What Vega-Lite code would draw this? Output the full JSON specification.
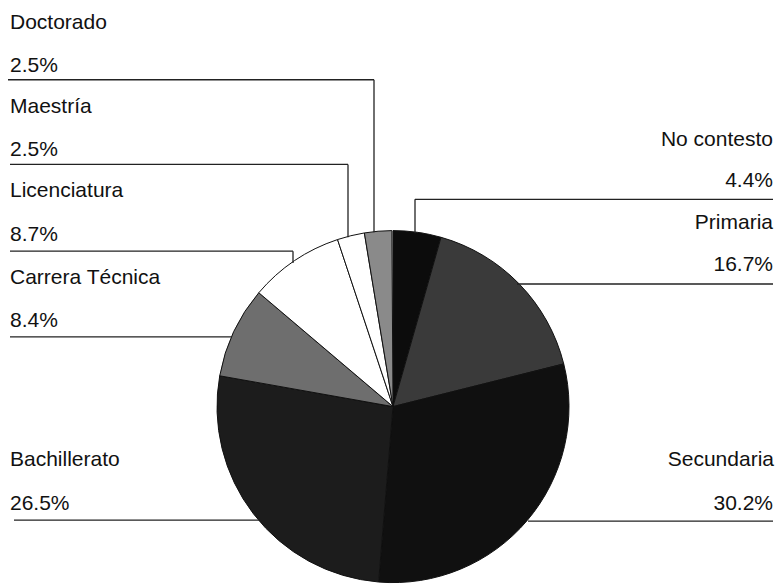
{
  "$schema": "https://vega.github.io/schema/vega-lite/v6.json",
  "width": 778,
  "height": 584,
  "autosize": {"type": "fit", "contains": "padding"},
  "padding": 0,
  "background": "white",
  "config": {"view": {"stroke": null}, "text": {"font": "Liberation Sans"}},
  "datasets": {
    "slices": [
      {"cat": "No contesto", "pct": 4.4, "idx": 1},
      {"cat": "Primaria", "pct": 16.7, "idx": 2},
      {"cat": "Secundaria", "pct": 30.2, "idx": 3},
      {"cat": "Bachillerato", "pct": 26.5, "idx": 4},
      {"cat": "Carrera Técnica", "pct": 8.4, "idx": 5},
      {"cat": "Licenciatura", "pct": 8.7, "idx": 6},
      {"cat": "Maestría", "pct": 2.5, "idx": 7},
      {"cat": "Doctorado", "pct": 2.5, "idx": 8}
    ],
    "leaders": [
      {"x": -385, "y": 328, "x2": -19, "y2": 328},
      {"x": -19, "y": 328, "x2": -19, "y2": 175},
      {"x": -383, "y": 243, "x2": -45, "y2": 243},
      {"x": -45, "y": 243, "x2": -45, "y2": 170},
      {"x": -383, "y": 156, "x2": -100, "y2": 156},
      {"x": -100, "y": 156, "x2": -100, "y2": 144},
      {"x": -383, "y": 70, "x2": -161, "y2": 70},
      {"x": -379, "y": -114, "x2": -134, "y2": -114},
      {"x": 135, "y": -115, "x2": 380, "y2": -115},
      {"x": 124, "y": 123, "x2": 380, "y2": 123},
      {"x": 22, "y": 208, "x2": 380, "y2": 208},
      {"x": 22, "y": 208, "x2": 22, "y2": 174}
    ],
    "labels": [
      {"t": "Doctorado", "x": -383, "y": 379, "side": "left"},
      {"t": "2.5%", "x": -383, "y": 336, "side": "left"},
      {"t": "Maestría", "x": -383, "y": 295, "side": "left"},
      {"t": "2.5%", "x": -383, "y": 251, "side": "left"},
      {"t": "Licenciatura", "x": -383, "y": 210, "side": "left"},
      {"t": "8.7%", "x": -383, "y": 166, "side": "left"},
      {"t": "Carrera Técnica", "x": -383, "y": 123, "side": "left"},
      {"t": "8.4%", "x": -383, "y": 80, "side": "left"},
      {"t": "Bachillerato", "x": -383, "y": -60, "side": "left"},
      {"t": "26.5%", "x": -383, "y": -104, "side": "left"},
      {"t": "No contesto", "x": 380, "y": 262, "side": "right"},
      {"t": "4.4%", "x": 380, "y": 220, "side": "right"},
      {"t": "Primaria", "x": 380, "y": 178, "side": "right"},
      {"t": "16.7%", "x": 380, "y": 136, "side": "right"},
      {"t": "Secundaria", "x": 381, "y": -60, "side": "right"},
      {"t": "30.2%", "x": 380, "y": -104, "side": "right"}
    ]
  },
  "resolve": {"scale": {"theta": "independent"}},
  "layer": [
    {
      "data": {"name": "slices"},
      "mark": {"type": "arc", "outerRadius": 176, "stroke": "#111111", "strokeWidth": 1},
      "encoding": {
        "x": {"datum": 0, "type": "quantitative", "scale": {"domain": [-393, 385], "nice": false, "zero": false}, "axis": null},
        "y": {"datum": 0, "type": "quantitative", "scale": {"domain": [-176, 408], "nice": false, "zero": false}, "axis": null},
        "theta": {"field": "pct", "type": "quantitative", "stack": true, "scale": {"domain": [0, 100]}},
        "order": {"field": "idx", "type": "quantitative"},
        "color": {
          "field": "cat", "type": "nominal", "legend": null,
          "scale": {
            "domain": ["No contesto", "Primaria", "Secundaria", "Bachillerato", "Carrera Técnica", "Licenciatura", "Maestría", "Doctorado"],
            "range": ["#0c0c0c", "#3a3a3a", "#101010", "#1c1c1c", "#6e6e6e", "#ffffff", "#ffffff", "#8a8a8a"]
          }
        }
      }
    },
    {
      "data": {"name": "leaders"},
      "mark": {"type": "rule", "color": "#222222", "strokeWidth": 1.3},
      "encoding": {
        "x": {"field": "x", "type": "quantitative"},
        "y": {"field": "y", "type": "quantitative"},
        "x2": {"field": "x2"},
        "y2": {"field": "y2"}
      }
    },
    {
      "data": {"name": "labels"},
      "transform": [{"filter": "datum.side == 'left'"}],
      "mark": {"type": "text", "align": "left", "baseline": "alphabetic", "fontSize": 21, "color": "#111111"},
      "encoding": {
        "x": {"field": "x", "type": "quantitative"},
        "y": {"field": "y", "type": "quantitative"},
        "text": {"field": "t"}
      }
    },
    {
      "data": {"name": "labels"},
      "transform": [{"filter": "datum.side == 'right'"}],
      "mark": {"type": "text", "align": "right", "baseline": "alphabetic", "fontSize": 21, "color": "#111111"},
      "encoding": {
        "x": {"field": "x", "type": "quantitative"},
        "y": {"field": "y", "type": "quantitative"},
        "text": {"field": "t"}
      }
    }
  ]
}
